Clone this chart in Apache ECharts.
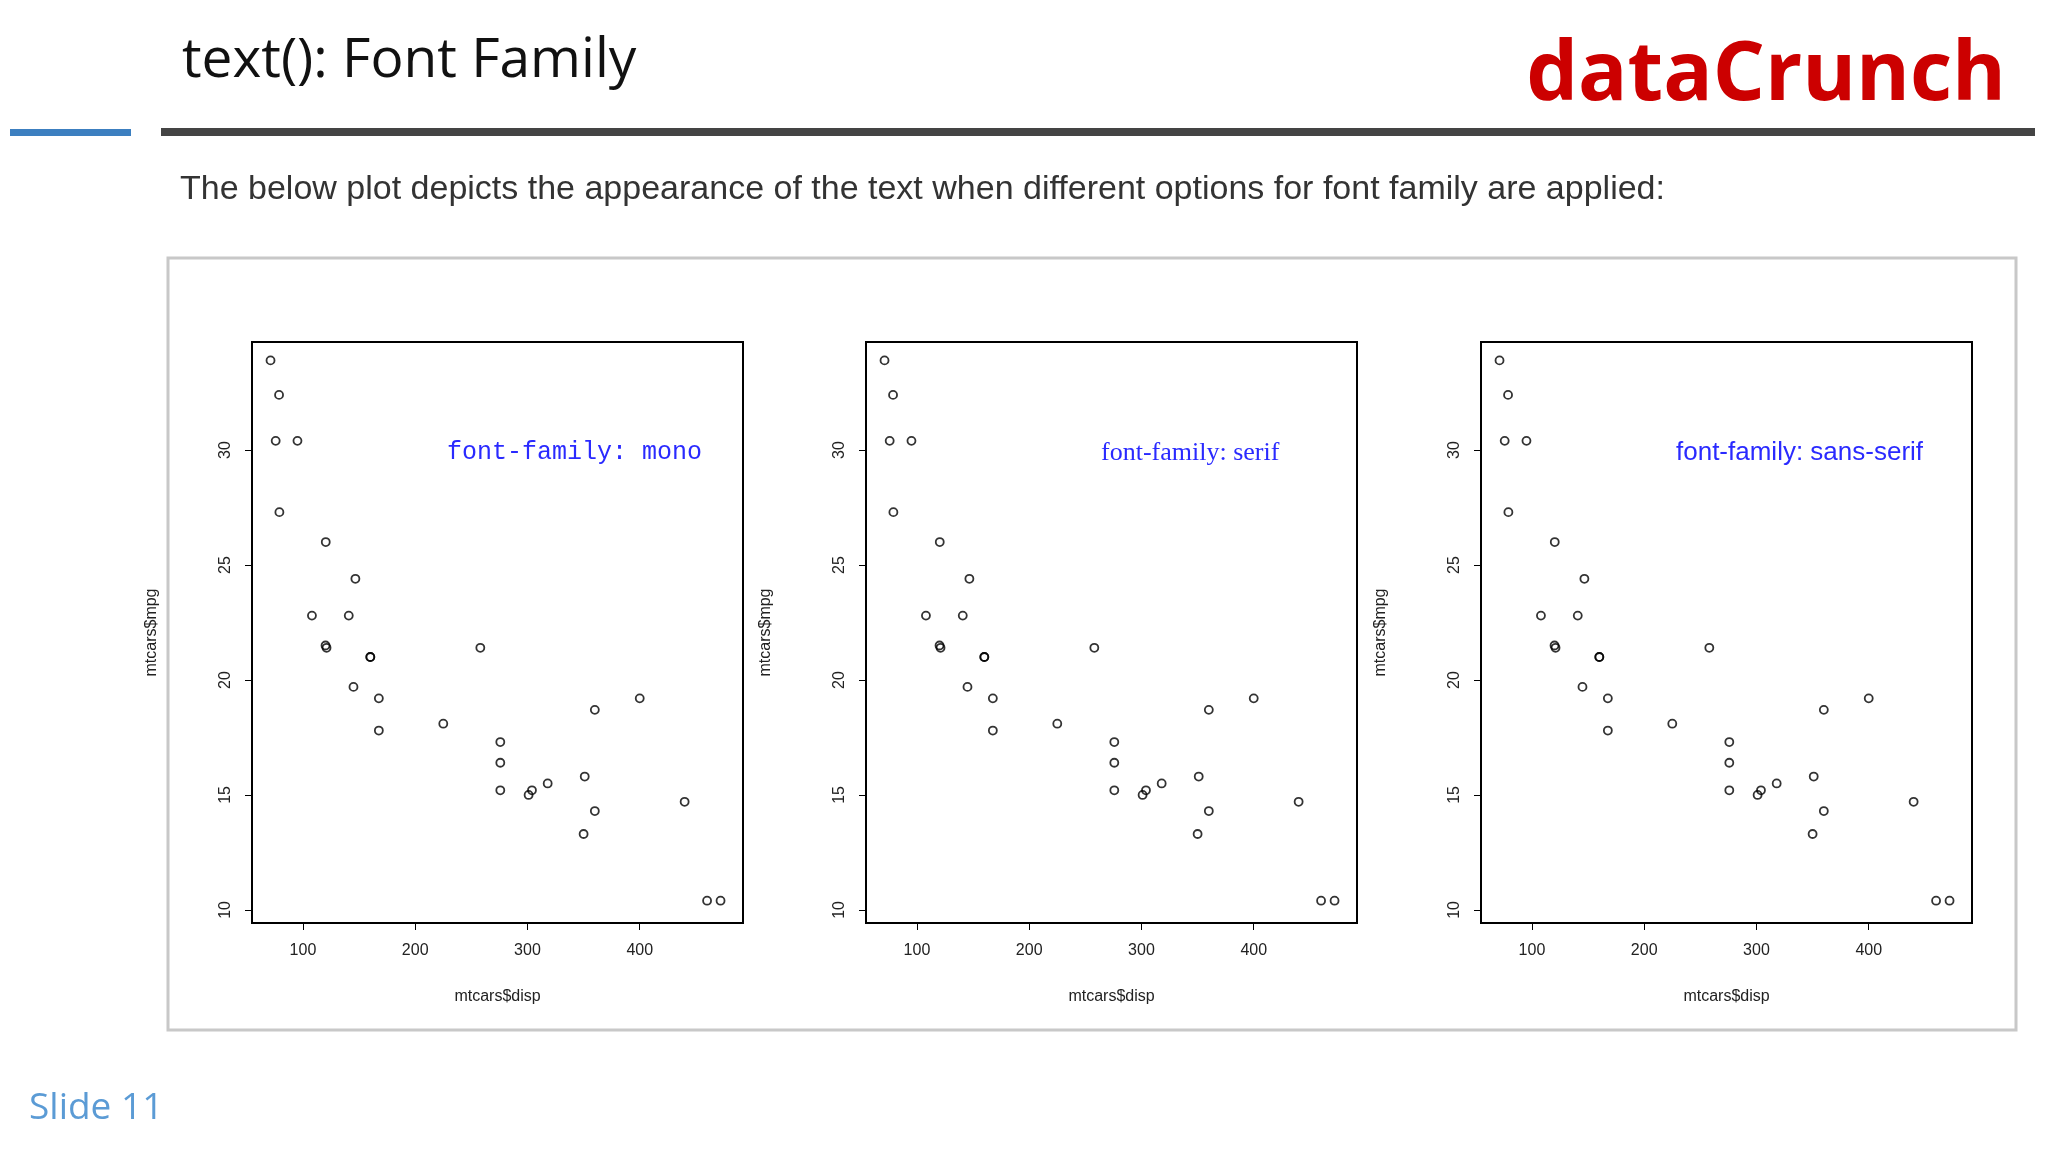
<!DOCTYPE html>
<html>
<head>
<meta charset="utf-8">
<script src="https://cdn.jsdelivr.net/npm/echarts@6/dist/echarts.min.js"></script>
<style>
  html, body { margin: 0; padding: 0; background: #fff; }
  #charts { width: 2048px; height: 1152px; }
</style>
</head>
<body>
<div id="charts"></div>
<script>
// mtcars data
var disp = [160, 160, 108, 258, 360, 225, 360, 146.7, 140.8, 167.6, 167.6, 275.8, 275.8, 275.8, 472, 460, 440, 78.7, 75.7, 71.1, 120.1, 318, 304, 350, 400, 79, 120.3, 95.1, 351, 145, 301, 121];
var mpg = [21, 21, 22.8, 21.4, 18.7, 18.1, 14.3, 24.4, 22.8, 19.2, 17.8, 16.4, 17.3, 15.2, 10.4, 10.4, 14.7, 32.4, 30.4, 33.9, 21.5, 15.5, 15.2, 13.3, 19.2, 27.3, 26, 30.4, 15.8, 19.7, 15, 21.4];
var xTicks = [100, 200, 300, 400];
var yTicks = [10, 15, 20, 25, 30];
var labels = ['font-family: mono', 'font-family: serif', 'font-family: sans-serif'];
var labelFonts = ['Liberation Mono', 'Liberation Serif', 'Liberation Sans'];

var myChart = echarts.init(document.getElementById('charts'));

var gridLefts = [252, 866, 1481];
var labelLefts = [447, 1101, 1676];
var labelSizes = [25, 26, 26];
var plotW = 491, plotTop = 342, plotH = 581;

var points = disp.map(function (d, i) { return [d, mpg[i]]; });
var grids = [], xAxes = [], yAxes = [], series = [], texts = [];

gridLefts.forEach(function (left, k) {
  grids.push({ left: left, top: plotTop, width: plotW, height: plotH, show: true,
    borderColor: '#000', borderWidth: 2, backgroundColor: '#fff' });
  xAxes.push({
    type: 'value', gridIndex: k, min: 54.6, max: 492,
    name: 'mtcars$disp', nameLocation: 'middle', nameGap: 66,
    nameTextStyle: { fontSize: 16, color: '#222', fontFamily: 'Liberation Sans' },
    axisLine: { show: false }, splitLine: { show: false },
    axisTick: { show: true, customValues: xTicks, length: 7, lineStyle: { color: '#000' } },
    axisLabel: { show: true, customValues: xTicks, fontSize: 16, color: '#222', margin: 20 }
  });
  yAxes.push({
    type: 'value', gridIndex: k, min: 9.43, max: 34.7,
    name: 'mtcars$mpg', nameLocation: 'middle', nameGap: 92, nameRotate: 90,
    nameTextStyle: { fontSize: 16, color: '#222', fontFamily: 'Liberation Sans' },
    axisLine: { show: false }, splitLine: { show: false },
    axisTick: { show: true, customValues: yTicks, length: 7, lineStyle: { color: '#000' } },
    axisLabel: { show: true, customValues: yTicks, fontSize: 16, color: '#222', rotate: 90, margin: 18 }
  });
  series.push({
    type: 'scatter', xAxisIndex: k, yAxisIndex: k, data: points,
    symbol: 'circle', symbolSize: 8,
    itemStyle: { color: 'rgba(0,0,0,0)', borderColor: '#000', borderWidth: 1.8 }
  });
  texts.push({
    type: 'text', left: labelLefts[k], top: 440,
    style: { text: labels[k], fill: '#2a2aff', font: labelSizes[k] + 'px "' + labelFonts[k] + '"' }
  });
});

var option = {
  animation: false,
  grid: grids,
  xAxis: xAxes,
  yAxis: yAxes,
  series: series,
  graphic: [
    { type: 'text', left: 182, top: 34,
      style: { text: 'text(): Font Family', fill: '#111', font: '55px "Open Sans"' } },
    { type: 'text', right: 42, top: 36,
      style: { text: 'dataCrunch', fill: '#cc0000', font: 'bold 82px "Open Sans"' } },
    { type: 'rect', shape: { x: 10, y: 129, width: 121, height: 7 }, style: { fill: '#3c7fc0' } },
    { type: 'rect', shape: { x: 161, y: 128, width: 1874, height: 8 }, style: { fill: '#444' } },
    { type: 'text', left: 180, top: 173,
      style: { text: 'The below plot depicts the appearance of the text when different options for font family are applied:',
        fill: '#333', font: '34px "Liberation Sans"' } },
    { type: 'rect', z: -10, shape: { x: 168, y: 258, width: 1848, height: 772 },
      style: { fill: '#fff', stroke: '#c8c8c8', lineWidth: 3 } },
    { type: 'text', left: 29, top: 1090,
      style: { text: 'Slide 11', fill: '#5b9bd5', font: '37px "Open Sans"' } }
  ].concat(texts)
};

myChart.setOption(option);
</script>
</body>
</html>
